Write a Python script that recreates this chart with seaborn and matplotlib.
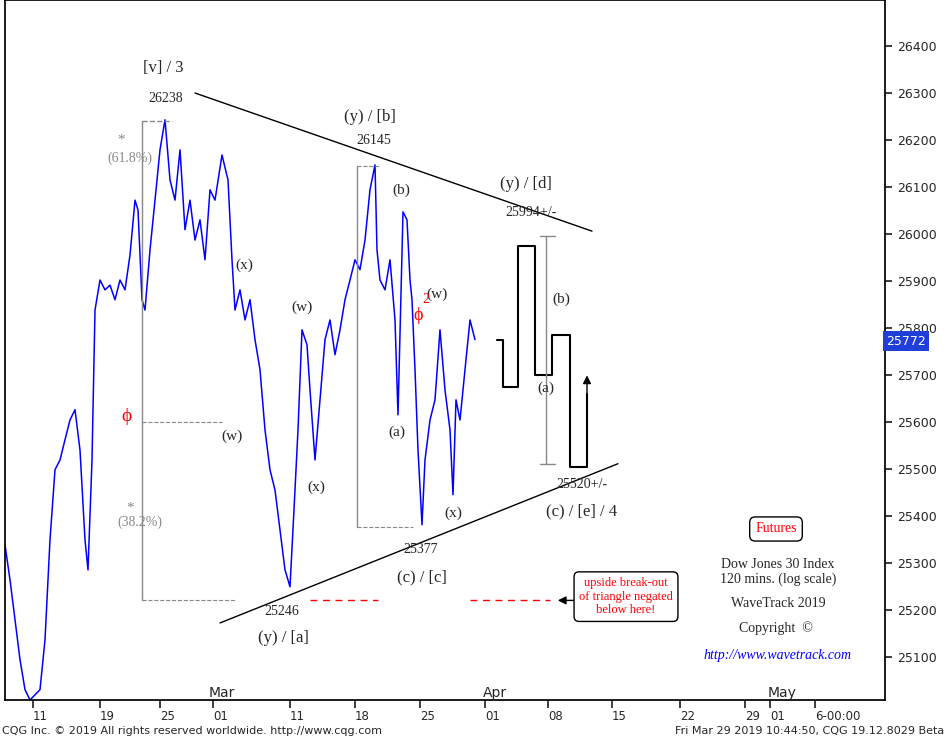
import matplotlib
matplotlib.use("Agg")
import matplotlib.pyplot as plt
import seaborn as sns
import pandas as pd

sns.set_theme(style="white")
plt.rcParams['font.family'] = ['Liberation Serif', 'DejaVu Serif']

# bar index (chart x position) and price
bar = [5,10,15,20,25,30,40,45,50,55,60,65,70,75,80,85,88,92,95,100,105,110,115,120,125,130,135,138,142,145,
       150,155,160,165,170,175,180,185,190,195,200,205,210,215,222,228,232,235,240,245,250,255,260,265,270,275,
       280,285,290,294,298,302,307,310,315,320,325,330,335,340,345,350,355,360,365,370,375,377,380,385,390,395,
       398,403,407,410,412,415,418,422,425,430,435,440,445,450,453,456,460,465,470,475]
price = [25338,25264,25179,25094,25030,25008,25030,25136,25349,25498,25519,25562,25604,25626,25540,25349,25285,
         25519,25838,25902,25881,25891,25860,25902,25881,25955,26072,26051,25860,25838,25966,26072,26179,26243,
         26115,26072,26179,26009,26072,25987,26030,25945,26094,26072,26168,26115,25945,25838,25881,25817,25860,
         25775,25711,25583,25498,25455,25370,25285,25249,25413,25583,25796,25764,25668,25519,25647,25775,25817,
         25743,25796,25860,25902,25945,25924,25987,26094,26147,25966,25902,25881,25945,25817,25615,26047,26030,
         25902,25860,25711,25540,25381,25519,25604,25647,25796,25668,25583,25445,25647,25604,25711,25817,25775]
# projected path
proj_x = [497,503,503,518,518,535,535,552,552,570,570,587,587]
proj_y = [25775,25775,25675,25675,25975,25975,25700,25700,25785,25785,25505,25505,25660]
x_ticks = [33,100,160,213,290,355,420,485,548,612,680,745,770,815]
x_labels = ["11","19","25","01","11","18","25","01","08","15","22","29","01","6-00:00"]
y_ticks = list(range(25100, 26401, 100))

fig = plt.figure(figsize=(9.48, 7.37), dpi=100)
ax = fig.add_axes([5/948, 37/737, 880/948, 700/737])
df = pd.DataFrame({"x": bar, "p": price})
sns.lineplot(data=df, x="x", y="p", ax=ax, color="#0000ff", lw=1.1)
ax.plot(proj_x, proj_y, color="black", lw=1.5)
ax.annotate("", xy=(587, 25705), xytext=(587, 25600), arrowprops=dict(arrowstyle="-|>", color="black"))
ax.set_xlim(5, 885)
ax.set_ylim(25008, 26498)
ax.yaxis.tick_right()
ax.set_yticks(y_ticks)
ax.set_yticklabels([str(v) for v in y_ticks], family="DejaVu Sans", fontsize=9)
ax.tick_params(axis="y", length=5, direction="out", right=True)
ax.set_xticks(x_ticks)
ax.set_xticklabels(x_labels, family="DejaVu Sans", fontsize=8.5, ha="left")
ax.tick_params(axis="x", length=6, direction="out", bottom=True, pad=1)
ax.set_xlabel(""); ax.set_ylabel("")
for s in ax.spines.values():
    s.set_color("black")

# trendlines
ax.plot([195, 592], [26300, 26006], color="black", lw=1)
ax.plot([220, 618], [25172, 25511], color="black", lw=1)
# fib lines
g = "#888888"
ax.plot([142, 142], [26240, 25220], color=g, lw=1)
ax.plot([142, 172], [26240, 26240], color=g, lw=1, ls="--")
ax.plot([142, 222], [25600, 25600], color=g, lw=0.8, ls="--")
ax.plot([142, 235], [25220, 25220], color=g, lw=0.8, ls="--")
ax.plot([357, 357], [26145, 25377], color=g, lw=1)
ax.plot([357, 380], [26145, 26145], color=g, lw=0.8, ls="--")
ax.plot([357, 413], [25377, 25377], color=g, lw=0.8, ls="--")
ax.plot([546, 546], [25995, 25510], color=g, lw=1)
ax.plot([540, 555], [25995, 25995], color=g, lw=1)
ax.plot([540, 555], [25510, 25510], color=g, lw=1)
ax.plot([310, 378], [25220, 25220], color="red", lw=1, ls=(0, (5, 4)))
ax.plot([470, 550], [25220, 25220], color="red", lw=1, ls=(0, (5, 4)))
ax.annotate("", xy=(555, 25220), xytext=(578, 25220), arrowprops=dict(arrowstyle="-|>", color="black"))

def t(x, y, s, **k):
    k.setdefault("fontsize", 11)
    ax.text(x, y, s, ha="center", va="center", **k)

t(163, 26353, "[v] / 3", fontsize=12)
t(166, 26289, "26238", fontsize=10)
t(121, 26200, "*", color=g); t(130, 26162, "(61.8%)", color=g, fontsize=10)
t(126, 25611, "ϕ", color="red", fontsize=14)
t(130, 25417, "*", color=g); t(140, 25387, "(38.2%)", color=g, fontsize=10)
t(244, 25934, "(x)"); t(232, 25570, "(w)"); t(302, 25843, "(w)"); t(316, 25460, "(x)")
t(370, 26249, "(y) / [b]", fontsize=12); t(374, 26198, "26145", fontsize=10)
t(401, 26092, "(b)"); t(397, 25577, "(a)"); t(437, 25872, "(w)"); t(453, 25406, "(x)")
t(418, 25826, "ϕ", color="red", fontsize=13); t(426, 25860, "2", color="red", fontsize=10)
t(421, 25328, "25377", fontsize=10); t(422, 25268, "(c) / [c]", fontsize=12)
t(282, 25196, "25246", fontsize=10); t(283, 25140, "(y) / [a]", fontsize=12)
t(526, 26106, "(y) / [d]", fontsize=12); t(531, 26045, "25994+/-", fontsize=10)
t(561, 25860, "(b)"); t(546, 25672, "(a)")
t(582, 25466, "25520+/-", fontsize=10); t(582, 25409, "(c) / [e] / 4", fontsize=12)
ax.text(776, 25372, "Futures", ha="center", va="center", color="red", fontsize=10,
        bbox=dict(boxstyle="round,pad=0.4", fc="white", ec="black"))
t(778, 25296, "Dow Jones 30 Index", fontsize=10); t(778, 25264, "120 mins. (log scale)", fontsize=10)
t(778, 25213, "WaveTrack 2019", fontsize=10); t(776, 25160, "Copyright  ©", fontsize=10)
t(777, 25102, "http://www.wavetrack.com", fontsize=10, color="blue", style="italic")
ax.text(626, 25228, "upside break-out\nof triangle negated\nbelow here!", ha="center", va="center",
        color="red", fontsize=9, bbox=dict(boxstyle="round,pad=0.4", fc="white", ec="black"))
for lx, lab in [(222, "Mar"), (495, "Apr"), (782, "May")]:
    ax.text(lx, 25022, lab, ha="center", va="center", fontsize=10, family="DejaVu Sans")
ax.text(886, 25772, "25772", transform=ax.transData, ha="left", va="center", color="white", fontsize=9,
        family="DejaVu Sans", bbox=dict(boxstyle="square,pad=0.25", fc="#1f3fd8", ec="none"), clip_on=False)
fig.text(2/948, 3/737, "CQG Inc. © 2019 All rights reserved worldwide. http://www.cqg.com", fontsize=8,
         family="DejaVu Sans")
fig.text(944/948, 3/737, "Fri Mar 29 2019 10:44:50, CQG 19.12.8029 Beta", fontsize=8, ha="right",
         family="DejaVu Sans")
fig.savefig("out.png", dpi=100)
